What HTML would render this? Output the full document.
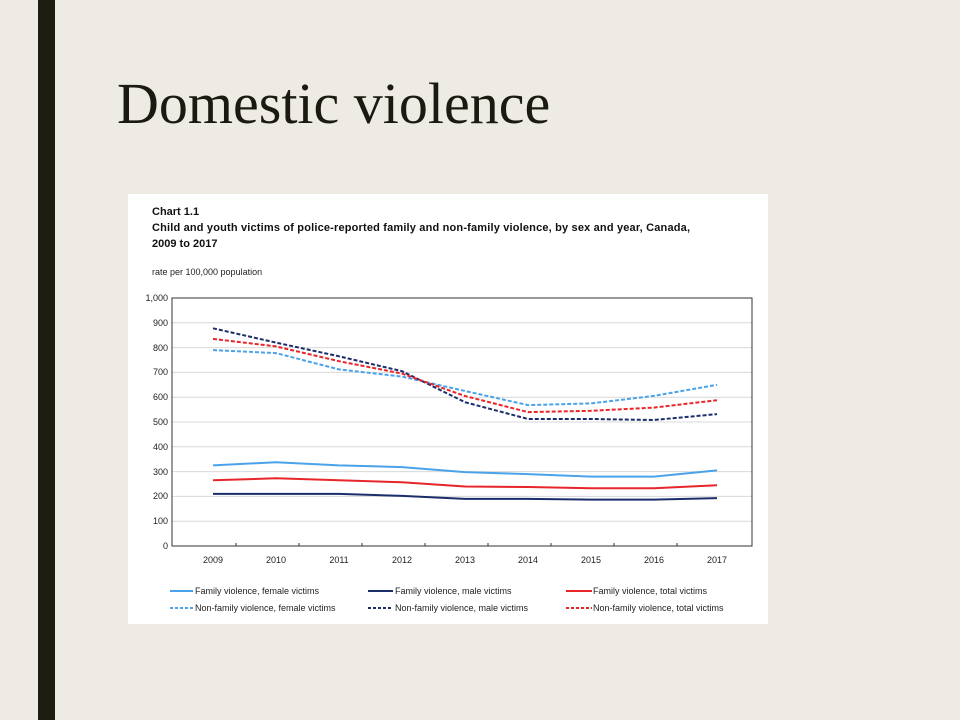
<!DOCTYPE html>
<html><head><meta charset="utf-8"><style>
body{margin:0;width:960px;height:720px;background:#eeebe4;position:relative;overflow:hidden}
.bar{position:absolute;left:38px;top:0;width:17px;height:720px;background:#1e1d12}
h1{position:absolute;left:117px;top:70px;margin:0;font:58px "Liberation Serif",serif;color:#1a1a10;font-weight:normal;white-space:nowrap}
svg{position:absolute;left:0;top:0}
</style></head><body>
<div class="bar"></div>
<h1>Domestic violence</h1>
<svg width="960" height="720" font-family="Liberation Sans, sans-serif">
<rect x="128" y="194" width="640" height="430" fill="#fff"/>
<text x="152" y="215" font-size="11" font-weight="bold" fill="#111">Chart 1.1</text>
<text x="152" y="231" font-size="11" font-weight="bold" fill="#111" textLength="538">Child and youth victims of police-reported family and non-family violence, by sex and year, Canada,</text>
<text x="152" y="247" font-size="11" font-weight="bold" fill="#111">2009 to 2017</text>
<text x="152" y="275" font-size="9" fill="#222">rate per 100,000 population</text>
<g stroke="#d8d8d8" stroke-width="1">
<line x1="172" x2="752" y1="322.8" y2="322.8"/><line x1="172" x2="752" y1="347.6" y2="347.6"/>
<line x1="172" x2="752" y1="372.4" y2="372.4"/><line x1="172" x2="752" y1="397.2" y2="397.2"/>
<line x1="172" x2="752" y1="422" y2="422"/><line x1="172" x2="752" y1="446.8" y2="446.8"/>
<line x1="172" x2="752" y1="471.6" y2="471.6"/><line x1="172" x2="752" y1="496.4" y2="496.4"/>
<line x1="172" x2="752" y1="521.2" y2="521.2"/>
</g>
<rect x="172" y="298" width="580" height="248" fill="none" stroke="#333" stroke-width="1"/>
<g font-size="9" fill="#222" text-anchor="end">
<text x="168" y="301">1,000</text><text x="168" y="326">900</text><text x="168" y="351">800</text>
<text x="168" y="375">700</text><text x="168" y="400">600</text><text x="168" y="425">500</text>
<text x="168" y="450">400</text><text x="168" y="475">300</text><text x="168" y="499">200</text>
<text x="168" y="524">100</text><text x="168" y="549">0</text>
</g>
<g stroke="#333"><line x1="236" x2="236" y1="543" y2="546"/><line x1="299" x2="299" y1="543" y2="546"/><line x1="362" x2="362" y1="543" y2="546"/><line x1="425" x2="425" y1="543" y2="546"/><line x1="488" x2="488" y1="543" y2="546"/><line x1="551" x2="551" y1="543" y2="546"/><line x1="614" x2="614" y1="543" y2="546"/><line x1="677" x2="677" y1="543" y2="546"/></g>
<g font-size="9" fill="#222" text-anchor="middle">
<text x="213" y="563">2009</text><text x="276" y="563">2010</text><text x="339" y="563">2011</text>
<text x="402" y="563">2012</text><text x="465" y="563">2013</text><text x="528" y="563">2014</text>
<text x="591" y="563">2015</text><text x="654" y="563">2016</text><text x="717" y="563">2017</text>
</g>
<g fill="none" stroke-width="2">
<polyline stroke="#4aa3ea" points="213,465.4 276,462.2 339,465.4 402,467.1 465,472.1 528,474.1 591,476.6 654,476.6 717,470.4"/>
<polyline stroke="#e8262a" points="213,480.3 276,478.3 339,480.3 402,482.3 465,486.5 528,487 591,488.2 654,488.2 717,485.2"/>
<polyline stroke="#1c2e6a" points="213,493.9 276,493.9 339,493.9 402,495.9 465,498.9 528,498.9 591,499.6 654,499.6 717,498.1"/>
<polyline stroke="#4aa3ea" stroke-dasharray="4,2" points="213,350.1 276,353.1 339,369.4 402,376.6 465,391 528,405.1 591,403.4 654,395.9 717,384.8"/>
<polyline stroke="#1c2e6a" stroke-dasharray="4,2" points="213,328.3 276,342.6 339,356.3 402,371.2 465,402.2 528,419 591,419 654,420 717,414.1"/>
<polyline stroke="#e8262a" stroke-dasharray="4,2" points="213,338.9 276,346.4 339,361.2 402,373.6 465,396 528,412.1 591,410.8 654,407.6 717,400.2"/>
</g>
<g stroke-width="2">
<line x1="170" x2="193" y1="591" y2="591" stroke="#4aa3ea"/>
<line x1="368" x2="393" y1="591" y2="591" stroke="#1c2e6a"/>
<line x1="566" x2="592" y1="591" y2="591" stroke="#e8262a"/>
<line x1="170" x2="193" y1="608" y2="608" stroke="#4aa3ea" stroke-dasharray="3,2"/>
<line x1="368" x2="393" y1="608" y2="608" stroke="#1c2e6a" stroke-dasharray="3,2"/>
<line x1="566" x2="592" y1="608" y2="608" stroke="#e8262a" stroke-dasharray="3,2"/>
</g>
<g font-size="9" fill="#222">
<text x="195" y="594">Family violence, female victims</text>
<text x="395" y="594">Family violence, male victims</text>
<text x="593" y="594">Family violence, total victims</text>
<text x="195" y="611">Non-family violence, female victims</text>
<text x="395" y="611">Non-family violence, male victims</text>
<text x="593" y="611">Non-family violence, total victims</text>
</g>
</svg>
</body></html>
